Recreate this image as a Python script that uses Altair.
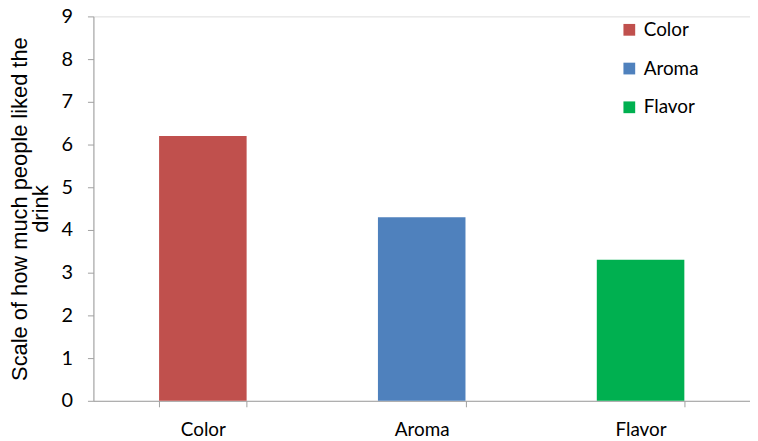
import altair as alt
import pandas as pd

categories = ["Color", "Aroma", "Flavor"]
values = [6.2, 4.3, 3.3]
colors = ["#C0504D", "#4F81BD", "#00B050"]
y_ticks = list(range(0, 10))

df = pd.DataFrame({"attribute": categories, "score": values})

LABEL_FONT = "Lato"
TITLE_FONT = "Liberation Sans"

chart = alt.Chart(df).mark_bar().encode(
    x=alt.X(
        "attribute:N",
        sort=categories,
        scale=alt.Scale(paddingInner=0.6, paddingOuter=0.3),
        axis=alt.Axis(
            title=None,
            labelAngle=0,
            tickBand="extent",
            labelFont=LABEL_FONT,
            labelFontSize=19,
            labelColor="#000000",
            labelPadding=14,
            domainColor="#A0A0A0",
            tickColor="#A0A0A0",
            tickSize=6,
        ),
    ),
    y=alt.Y(
        "score:Q",
        scale=alt.Scale(domain=[0, 9], nice=False),
        axis=alt.Axis(
            title=["Scale of how much people liked the", "drink"],
            titleFont=TITLE_FONT,
            titleFontSize=22,
            titleLineHeight=21,
            titleFontWeight="normal",
            titleColor="#000000",
            titlePadding=9,
            values=y_ticks,
            grid=False,
            labelFont=LABEL_FONT,
            labelFontSize=20,
            labelColor="#000000",
            labelPadding=15,
            domainColor="#A0A0A0",
            tickColor="#A0A0A0",
            tickSize=6,
        ),
    ),
    color=alt.Color(
        "attribute:N",
        sort=categories,
        scale=alt.Scale(domain=categories, range=colors),
        legend=alt.Legend(
            title=None,
            orient="none",
            legendX=530,
            legendY=4,
            symbolType="square",
            symbolSize=140,
            symbolStrokeWidth=0,
            labelFont=LABEL_FONT,
            labelFontSize=19,
            labelColor="#000000",
            rowPadding=19,
            labelOffset=5,
        ),
    ),
).properties(
    width=661,
    height=387,
    padding={"left": 86, "top": 7, "right": 0, "bottom": 40},
    autosize=alt.AutoSizeParams(type="none"),
).configure_view(stroke=None).configure(background="white")

chart.save("out.html", embed_options={"renderer": "svg", "actions": False})
